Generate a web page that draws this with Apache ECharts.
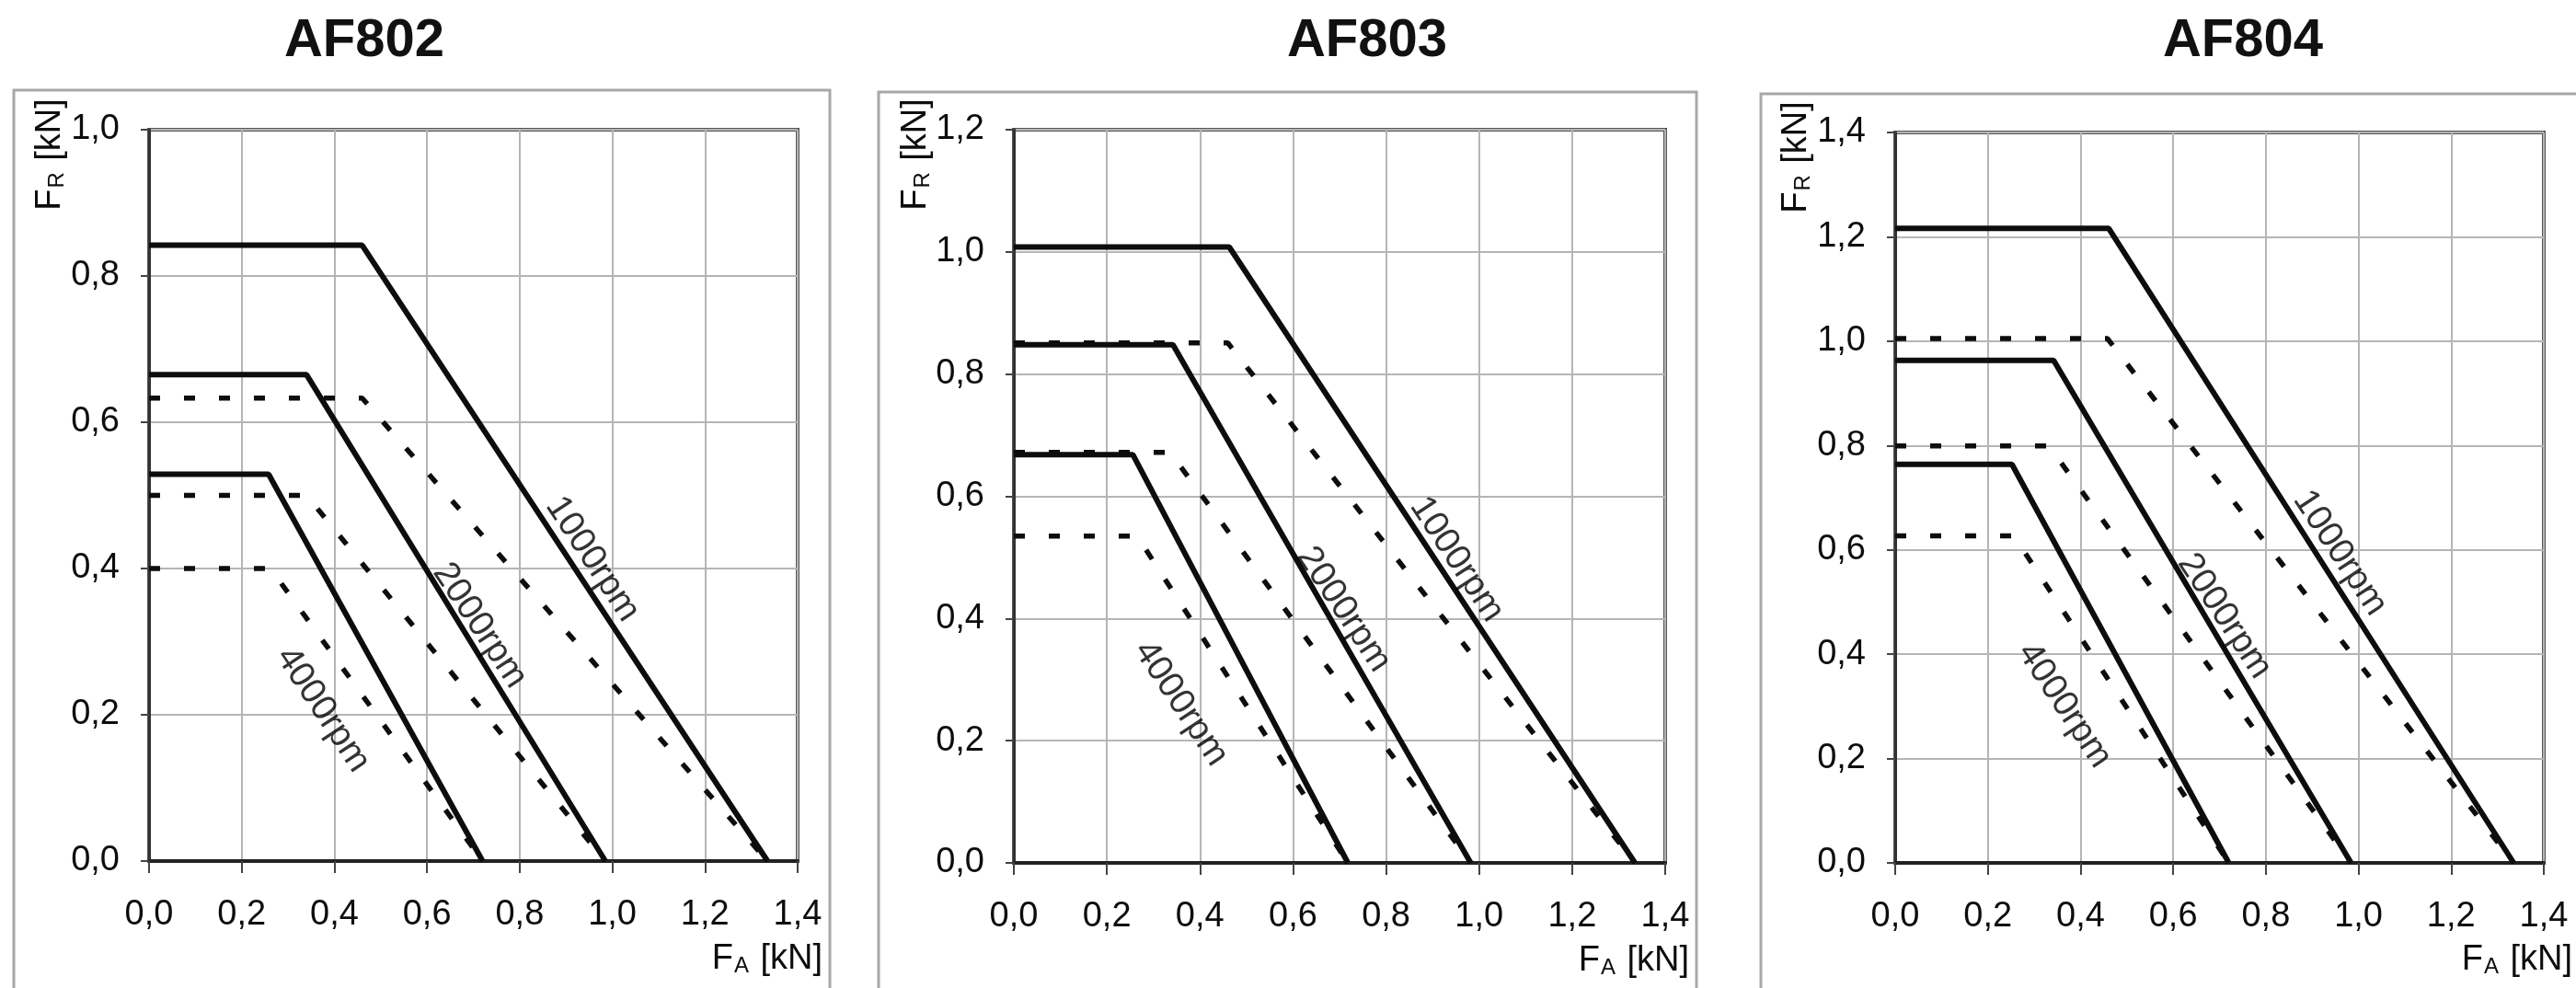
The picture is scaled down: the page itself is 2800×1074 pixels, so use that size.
<!DOCTYPE html>
<html><head><meta charset="utf-8">
<script src="https://cdn.jsdelivr.net/npm/echarts@6/dist/echarts.min.js"></script>
<style>html,body{margin:0;padding:0;background:#fff}#c{width:2800px;height:1074px}</style>
</head><body><div id="c"></div><script>
// ---------- data ----------
const models = ['AF802', 'AF803', 'AF804'];
const speeds = ['1000rpm', '2000rpm', '4000rpm'];
const xMax = 1.4;
const yMaxes = [1.0, 1.2, 1.4];

// AF802 (points: [F_A, F_R])
const af802Solid1000 = [[0, 0.842], [0.46, 0.842], [1.335, 0]];
const af802Solid2000 = [[0, 0.665], [0.34, 0.665], [0.985, 0]];
const af802Solid4000 = [[0, 0.529], [0.258, 0.529], [0.72, 0]];
const af802Dash1000 = [[0, 0.633], [0.46, 0.633], [1.335, 0]];
const af802Dash2000 = [[0, 0.50], [0.34, 0.50], [0.985, 0]];
const af802Dash4000 = [[0, 0.40], [0.262, 0.40], [0.72, 0]];
const af802LabelPos = [[0.957, 0.413], [0.714, 0.322], [0.375, 0.207]];

// AF803
const af803Solid1000 = [[0, 1.008], [0.463, 1.008], [1.335, 0]];
const af803Solid2000 = [[0, 0.848], [0.342, 0.848], [0.982, 0]];
const af803Solid4000 = [[0, 0.668], [0.256, 0.668], [0.718, 0]];
const af803Dash1000 = [[0, 0.851], [0.46, 0.851], [1.335, 0]];
const af803Dash2000 = [[0, 0.672], [0.336, 0.672], [0.982, 0]];
const af803Dash4000 = [[0, 0.535], [0.265, 0.535], [0.718, 0]];
const af803LabelPos = [[0.952, 0.497], [0.709, 0.415], [0.359, 0.261]];

// AF804
const af804Solid1000 = [[0, 1.216], [0.461, 1.216], [1.335, 0]];
const af804Solid2000 = [[0, 0.963], [0.342, 0.963], [0.984, 0]];
const af804Solid4000 = [[0, 0.764], [0.252, 0.764], [0.72, 0]];
const af804Dash1000 = [[0, 1.005], [0.458, 1.005], [1.335, 0]];
const af804Dash2000 = [[0, 0.799], [0.332, 0.799], [0.984, 0]];
const af804Dash4000 = [[0, 0.627], [0.256, 0.627], [0.72, 0]];
const af804LabelPos = [[0.96, 0.594], [0.711, 0.473], [0.365, 0.302]];

const solids = [
  [af802Solid1000, af802Solid2000, af802Solid4000],
  [af803Solid1000, af803Solid2000, af803Solid4000],
  [af804Solid1000, af804Solid2000, af804Solid4000]
];
const dashes = [
  [af802Dash1000, af802Dash2000, af802Dash4000],
  [af803Dash1000, af803Dash2000, af803Dash4000],
  [af804Dash1000, af804Dash2000, af804Dash4000]
];
const labelPos = [af802LabelPos, af803LabelPos, af804LabelPos];

// ---------- layout ----------
const FONT = "'Liberation Sans', Arial, sans-serif";
const grids = [
  { left: 162, top: 141, width: 705, height: 795 },
  { left: 1102, top: 141, width: 708, height: 797 },
  { left: 2060, top: 144, width: 705, height: 794 }
];
const frames = [
  { x: 15, y: 98, w: 887 },
  { x: 955, y: 100, w: 889 },
  { x: 1914, y: 102, w: 900 }
];
const titlePos = [[396, 45], [1486, 45], [2438, 45]];
const yNamePos = [[52, 168], [993, 168], [1950, 171]];
const xNamePos = [[894, 1040], [1836, 1042], [2796, 1041]];

const fmt = v => v.toFixed(1).replace('.', ',');
const ink = '#0d0d0d';

const xAxes = [], yAxes = [], series = [], graphics = [];
grids.forEach((g, i) => {
  xAxes.push({
    gridIndex: i, type: 'value', min: 0, max: xMax, interval: 0.2,
    axisLine: { show: true, onZero: false, lineStyle: { color: '#222', width: 4 } },
    axisTick: { show: true, length: 13, lineStyle: { color: '#444', width: 2 } },
    axisLabel: { formatter: fmt, fontFamily: FONT, fontSize: 38, color: ink, margin: 40 },
    splitLine: { show: true, lineStyle: { color: '#b5b5b5', width: 2 } }
  });
  yAxes.push({
    gridIndex: i, type: 'value', min: 0, max: yMaxes[i], interval: 0.2,
    axisLine: { show: true, onZero: false, lineStyle: { color: '#333', width: 3 } },
    axisTick: { show: true, length: 9, lineStyle: { color: '#444', width: 2 } },
    axisLabel: { formatter: fmt, fontFamily: FONT, fontSize: 38, color: ink, margin: 32 },
    splitLine: { show: true, lineStyle: { color: '#b5b5b5', width: 2 } }
  });
  for (let k = 0; k < 3; k++) {
    series.push({
      type: 'line', xAxisIndex: i, yAxisIndex: i, data: dashes[i][k],
      showSymbol: false, symbol: 'none', silent: true, z: 3,
      lineStyle: { color: ink, width: 5.5, type: [12, 26], cap: 'butt' }
    });
  }
  for (let k = 0; k < 3; k++) {
    series.push({
      type: 'line', xAxisIndex: i, yAxisIndex: i, data: solids[i][k],
      showSymbol: false, symbol: 'none', silent: true, z: 4,
      lineStyle: { color: ink, width: 6, type: 'solid' }
    });
  }
  series.push({
    type: 'scatter', xAxisIndex: i, yAxisIndex: i, symbolSize: 0, silent: true, z: 5,
    data: labelPos[i].map((p, k) => ({ value: p, name: speeds[k] })),
    label: {
      show: true, position: 'inside', formatter: p => p.name, rotate: -56.5,
      fontFamily: FONT, fontSize: 39, color: '#000'
    }
  });
  const f = frames[i];
  graphics.push({
    type: 'rect', shape: { x: f.x, y: f.y, width: f.w, height: 1100 - f.y }, z: 0,
    style: { fill: 'none', stroke: '#a8a8a8', lineWidth: 3 }
  });
  graphics.push({
    type: 'text', x: titlePos[i][0], y: titlePos[i][1], z: 10,
    style: { text: models[i], align: 'center', verticalAlign: 'middle',
      font: "bold 58px " + FONT, fill: '#111' }
  });
  graphics.push({
    type: 'text', x: yNamePos[i][0], y: yNamePos[i][1], rotation: Math.PI / 2, z: 10,
    style: {
      text: '{a|F}{s|R}{a| [kN]}', align: 'center', verticalAlign: 'middle',
      rich: {
        a: { fontFamily: FONT, fontSize: 38, fill: ink, lineHeight: 44, verticalAlign: 'bottom' },
        s: { fontFamily: FONT, fontSize: 24, fill: ink, lineHeight: 30, verticalAlign: 'bottom', padding: [0, 2, 0, 1] }
      }
    }
  });
  graphics.push({
    type: 'text', x: xNamePos[i][0], y: xNamePos[i][1], z: 10,
    style: {
      text: '{a|F}{s|A}{a| [kN]}', align: 'right', verticalAlign: 'middle',
      rich: {
        a: { fontFamily: FONT, fontSize: 38, fill: ink, lineHeight: 44, verticalAlign: 'bottom' },
        s: { fontFamily: FONT, fontSize: 24, fill: ink, lineHeight: 30, verticalAlign: 'bottom', padding: [0, 2, 0, 1] }
      }
    }
  });
});

const chart = echarts.init(document.getElementById('c'), null, { renderer: 'canvas' });
chart.setOption({
  backgroundColor: '#fff',
  animation: false,
  grid: grids.map(g => Object.assign({ show: true, borderColor: '#555', borderWidth: 4, backgroundColor: 'transparent' }, g)),
  xAxis: xAxes,
  yAxis: yAxes,
  series: series,
  graphic: graphics
});
</script></body></html>
